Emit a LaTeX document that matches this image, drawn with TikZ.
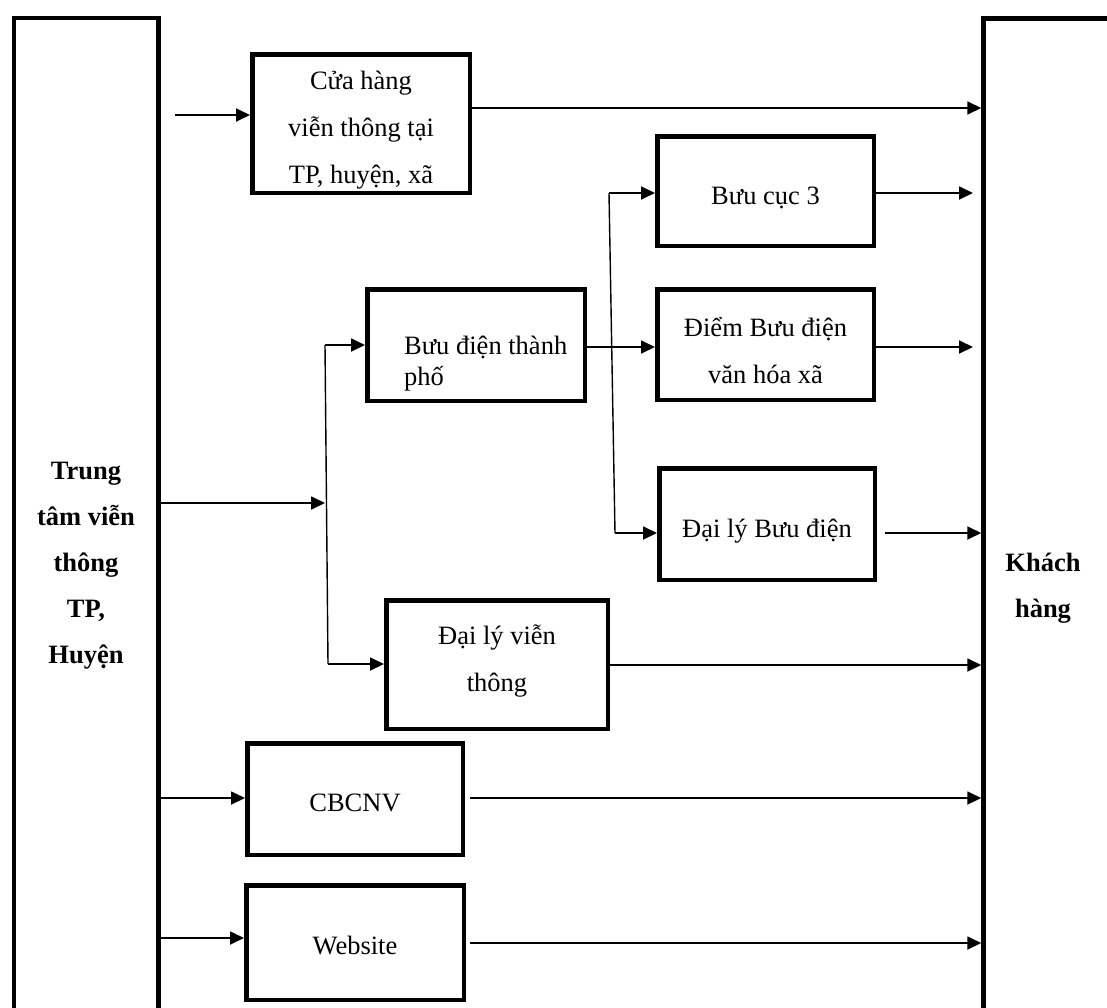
\documentclass[tikz,border=0pt]{standalone}
\usepackage{fontspec}
\setmainfont{Liberation Serif}
\usetikzlibrary{arrows.meta}
\begin{document}
\begin{tikzpicture}[x=1pt,y=-1pt,
  box/.style={draw, line width=4.5pt, inner sep=0pt},
  txt/.style={align=center, inner sep=0pt, font=\fontsize{26.5}{47}\selectfont},
  big/.style={draw, line width=4.5pt, inner sep=0pt},
  lbl/.style={align=center, inner sep=0pt, font=\fontsize{26.5}{46}\selectfont\bfseries},
  arr/.style={line width=1.8pt, -{Triangle[length=14pt,width=13pt]}},
  trunk/.style={line width=1.4pt}]
\useasboundingbox (0,0) rectangle (1107,1007);
\clip (0,0) rectangle (1107,1007);

% big side boxes
\node[big, minimum width=144.5pt, minimum height=1022pt] (L) at (86.25,529) {};
\node[big, minimum width=136.5pt, minimum height=1022pt] (R) at (1051.75,529.5) {};
\node[lbl] (Ltxt) at (86,566) {Trung\\tâm viễn\\thông\\TP,\\Huyện};
\node[lbl] (Rtxt) at (1043,588) {Khách\\hàng};

% boxes
\node[box, minimum width=217.5pt, minimum height=138.5pt] (Cua) at (361,123.5) {};
\node[box, minimum width=216.5pt, minimum height=109.5pt] (BC3) at (765.5,191) {};
\node[box, minimum width=216.5pt, minimum height=110.5pt] (Diem) at (765.5,344.5) {};
\node[box, minimum width=215.5pt, minimum height=111.5pt] (DLBD) at (767,524) {};
\node[box, minimum width=217.5pt, minimum height=111.5pt] (BDTP) at (476,345) {};
\node[box, minimum width=221.5pt, minimum height=128.5pt] (DLVT) at (497,664.5) {};
\node[box, minimum width=215.5pt, minimum height=111.5pt] (CB) at (355,799) {};
\node[box, minimum width=217.5pt, minimum height=114.5pt] (Web) at (355,942.5) {};

% box texts
\node[txt] (CuaT) at (361,130.5) {Cửa hàng\\viễn thông tại\\TP, huyện, xã};
\node[txt] (BC3T) at (765.5,198) {Bưu cục 3};
\node[txt] (DiemT) at (765.5,350.5) {Điểm Bưu điện\\văn hóa xã};
\node[txt] (DLBDT) at (767,531) {Đại lý Bưu điện};
\node[txt, align=left, anchor=west, font=\fontsize{26.5}{31}\selectfont] (BDTPT) at (404,364) {Bưu điện thành\\phố};
\node[txt] (DLVTT) at (497,661.5) {Đại lý viễn\\thông};
\node[txt] (CBT) at (355,803) {CBCNV};
\node[txt] (WebT) at (355,945.5) {Website};

% helper coordinates
\coordinate (s1) at (175,115);
\coordinate (o1) at (0,108);
\coordinate (j0) at (325,503);
\coordinate (j1) at (325,345);
\coordinate (j2) at (328,664);
\coordinate (k1) at (609,193);
\coordinate (k2) at (615,533);
\coordinate (o2) at (0,347);
\coordinate (e1) at (973,193);
\coordinate (e2) at (973,347);
\coordinate (d1) at (885,533);
\coordinate (o3) at (0,665);
\coordinate (o4) at (0,798);
\coordinate (c1) at (470,798);
\coordinate (o5) at (0,938);
\coordinate (w1) at (470,943);

% connectors
\draw[arr] (s1) -- (s1 -| Cua.west);
\draw[arr] (Cua.east |- o1) -- (o1 -| R.west);
\draw[arr] (L.east |- j0) -- (j0);
\draw[trunk] (j1) -- (j2);
\draw[arr] (j1) -- (j1 -| BDTP.west);
\draw[arr] (j2) -- (j2 -| DLVT.west);
\draw[arr] (BDTP.east |- o2) -- (o2 -| Diem.west);
\draw[trunk] (k1) -- (k2);
\draw[arr] (k1) -- (k1 -| BC3.west);
\draw[arr] (k2) -- (k2 -| DLBD.west);
\draw[arr] (BC3.east |- e1) -- (e1);
\draw[arr] (Diem.east |- e2) -- (e2);
\draw[arr] (d1) -- (d1 -| R.west);
\draw[arr] (DLVT.east |- o3) -- (o3 -| R.west);
\draw[arr] (L.east |- o4) -- (o4 -| CB.west);
\draw[arr] (c1) -- (c1 -| R.west);
\draw[arr] (L.east |- o5) -- (o5 -| Web.west);
\draw[arr] (w1) -- (w1 -| R.west);
\end{tikzpicture}
\end{document}
